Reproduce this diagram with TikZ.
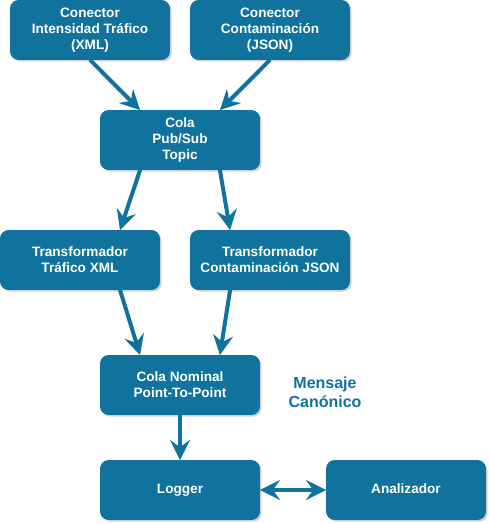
\documentclass[tikz,border=0pt]{standalone}
\usepackage{fontspec}
\setmainfont{Liberation Sans}
\usetikzlibrary{arrows.meta,shadows}
\definecolor{dblue}{HTML}{10739E}
\tikzset{
  box/.style={draw=dblue, fill=dblue, line width=0.8pt, rounded corners=8pt,
    minimum width=159pt, minimum height=59pt, inner sep=0pt, align=center,
    text=white, font=\fontsize{13.6}{16}\selectfont\bfseries,
    drop shadow={shadow xshift=2pt, shadow yshift=-2pt, opacity=0.3, fill=black!60}},
  conn/.style={draw=dblue, line width=4pt,
    -{Stealth[length=20pt,width=20pt,inset=7pt]}},
  dconn/.style={draw=dblue, line width=4pt,
    {Stealth[length=20pt,width=20pt,inset=7pt]}-{Stealth[length=20pt,width=20pt,inset=7pt]}},
  lbl/.style={text=dblue, align=center, font=\fontsize{16}{19}\selectfont\bfseries}
}
\begin{document}
\begin{tikzpicture}[x=1pt,y=-1pt]
\useasboundingbox[fill=white] (0,0) rectangle (488,524);
\node[box] (c1) at (90,30) {Conector\\Intensidad Tráfico\\(XML)};
\node[box] (c2) at (270,30) {Conector\\Contaminación\\(JSON)};
\node[box] (topic) at (180,140) {Cola\\Pub/Sub\\Topic};
\node[box] (t1) at (80,260) {Transformador\\Tráfico XML};
\node[box] (t2) at (270,260) {Transformador\\Contaminación JSON};
\node[box] (p2p) at (180,385) {Cola Nominal\\Point-To-Point};
\node[box] (logger) at (180,490) {\strut Logger};
\node[box] (anal) at (406,490) {\strut Analizador};
\node[lbl] (msg) at (325,392) {Mensaje\\Canónico};

\draw[conn] (c1.south) -- ([xshift=40pt]topic.north west);
\draw[conn] (c2.south) -- ([xshift=-40pt]topic.north east);
\draw[conn] ([xshift=40pt]topic.south west) -- ([xshift=40pt]t1.north);
\draw[conn] ([xshift=-40pt]topic.south east) -- ([xshift=40pt]t2.north west);
\draw[conn] ([xshift=40pt]t1.south) -- ([xshift=40pt]p2p.north west);
\draw[conn] ([xshift=40pt]t2.south west) -- ([xshift=-40pt]p2p.north east);
\draw[conn] (p2p.south) -- (logger.north);
\draw[dconn] (logger.east) -- (anal.west);
\end{tikzpicture}
\end{document}
